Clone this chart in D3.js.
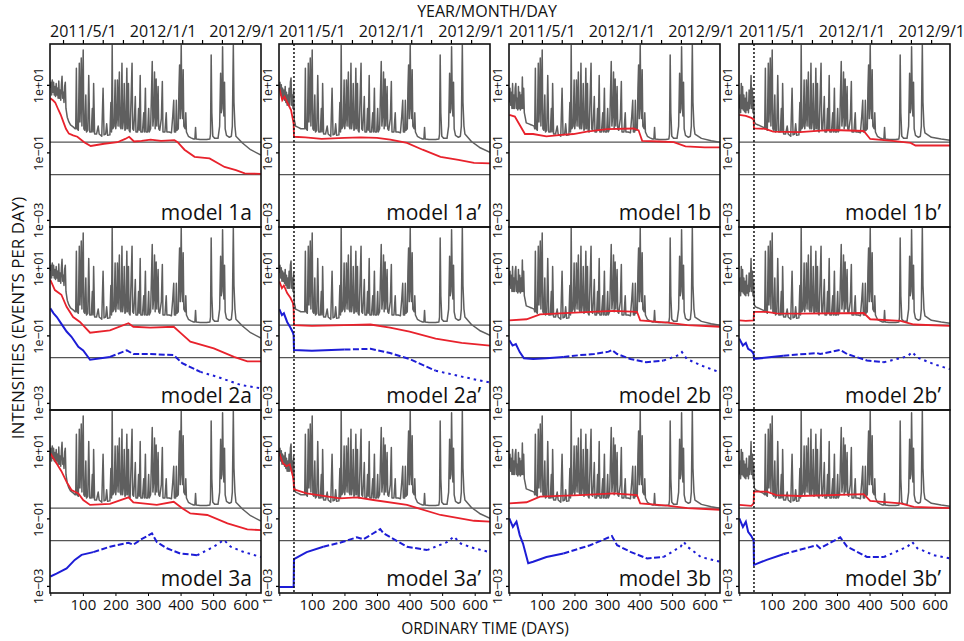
<!DOCTYPE html>
<html>
<head>
<meta charset="utf-8">
<script src="https://cdn.jsdelivr.net/npm/d3@7"></script>
<style>
  body { margin: 0; background: #fff; }
  text { font-family: "Open Sans", sans-serif; }
</style>
</head>
<body>
<script>
// ---- data ----
var dayZero = new Date(2011, 0, 21);   // ordinary day 0
var dayMax = 647;
var cutDay = 45;                        // dotted line in the primed models
var refLevels = [0.2, 0.022];
var yTickValues = [1e1, 1e-1, 1e-3];
var yTickLabels = ["1e+01", "1e\u221201", "1e\u221203"];
var dayTicks = [0, 100, 200, 300, 400, 500, 600];
var dateTickLabels = ["2011/5/1", "2012/1/1", "2012/9/1"];
var blueDashDays = [130, 430];

var rowNames = ["1", "2", "3"];
var colNames = ["a", "a\u2019", "b", "b\u2019"];

// grey: total intensity (start and end of series differ by column)
var greyHeadA = [[0,8],[2,12],[4,5],[6,14],[8,6],[10,12],[12,5],[14,9],[16,4.5],[18,11],[20,5],[22,8],[24,4],[26,13],[28,4],[30,7],[32,3.5],[34,10],[36,18],[38,4],[40,6],[42,3],[44,9],[46,12],[48,2],[52,1.1],[57,0.8],[62,0.65],[67,0.6],[72,0.55],[76,0.5]];
var greyHeadA2 = [[0,7],[2,12],[4,5],[6,10],[8,4],[10,8],[12,4],[14,7],[16,3.5],[18,9],[20,3],[22,6],[24,2.5],[26,5],[28,2.5],[30,8],[32,2.5],[34,12],[36,16],[38,2.5],[40,5],[42,2],[44,7],[46,0.9],[50,0.6],[58,0.55],[66,0.5],[74,0.5]];
var greyHeadB = [[0,3],[2,8],[4,2.5],[6,6],[8,2],[10,11],[12,2],[14,5],[16,2],[18,8],[20,11],[22,2],[24,4],[26,1.8],[28,9],[30,2],[32,6],[34,1.8],[36,5],[38,2],[40,17],[42,2],[44,8],[46,1.5],[48,1.2],[52,0.75],[60,0.7],[68,0.65],[76,0.6]];
var greyHeadB2 = [[0,2],[2,5],[4,1.5],[6,11],[8,2],[10,9],[12,1.8],[14,5],[16,1.6],[18,4],[20,1.5],[22,6],[24,1.8],[26,3],[28,1.5],[30,7],[32,2],[34,4],[36,19],[38,2],[40,8],[42,1.5],[44,4],[46,0.8],[50,0.7],[58,0.65],[66,0.6],[74,0.55]];
var greyMid = [[78,0.5],[80,31],[82,0.5],[86,0.45],[89,44],[91,0.8],[93,3],[95,62],[97,0.6],[99,8],[101,107],[103,0.5],[106,0.45],[109,5],[111,0.4],[115,0.45],[118,19],[121,0.4],[126,0.4],[129,2],[131,0.4],[133,11],[136,0.35],[142,0.35],[147,0.6],[150,0.35],[158,0.3],[162,8],[165,0.33],[170,0.35],[173,0.7],[176,0.32],[183,0.33],[186,3],[188,0.4],[190,150],[192,0.5],[196,0.6],[199,14],[201,0.5],[204,1.2],[206,14],[208,0.6],[210,3],[212,24],[214,0.6],[217,0.5],[220,44],[222,0.5],[225,1],[227,11],[229,0.45],[232,0.5],[235,31],[237,0.5],[240,11],[242,0.45],[245,0.4],[248,4],[251,44],[253,0.5],[256,0.45],[259,1.5],[261,4.5],[263,0.4],[268,0.4],[271,2],[273,0.45],[276,19],[278,0.4],[283,0.4],[287,1.5],[289,0.4],[292,8],[294,0.4],[299,0.4],[302,2],[304,0.4],[308,0.5],[310,3],[313,49],[315,0.6],[318,1.5],[320,24],[322,0.5],[325,15],[327,0.6],[329,2],[331,9],[333,0.5],[336,0.45],[341,1],[344,12.6],[346,0.4],[352,0.4],[356,1.5],[358,0.4],[365,0.4],[372,0.38],[376,1.2],[379,3.5],[381,0.4],[385,0.4],[387,3.5],[389,0.45],[393,0.5],[395,8],[397,39],[399,1],[402,150],[404,2],[406,1],[408,28],[410,0.6],[414,0.5],[416,1.5],[418,0.4],[424,0.3],[432,0.27],[440,0.25],[444,0.25],[446,0.55],[448,0.25],[460,0.24],[470,0.24],[480,0.24],[490,0.25],[492,0.35],[494,76],[496,1.5],[499,0.3],[505,0.26],[515,0.26],[520,0.6],[523,22],[525,1.5],[527,2],[529,135],[531,5],[533,1.2],[535,12],[537,0.5],[541,0.32],[550,0.28],[556,0.3],[559,0.6],[562,150],[564,3],[567,0.6]];
var greyTailA = [[570,0.3],[590,0.19],[615,0.12],[647,0.083]];
var greyTailA2 = [[570,0.35],[590,0.21],[615,0.14],[647,0.1]];
var greyTailB = [[570,0.35],[590,0.26],[620,0.22],[647,0.2]];
var greyTailB2 = [[570,0.38],[590,0.28],[620,0.25],[647,0.23]];

// red: fitted intensity, blue: background part
var red1a = [[0,4],[8,3.5],[15,3],[25,1.8],[32,1.3],[40,0.8],[48,0.5],[57,0.36],[70,0.32],[83,0.29],[104,0.2],[124,0.155],[165,0.18],[206,0.2],[230,0.25],[242,0.29],[257,0.21],[280,0.22],[308,0.24],[340,0.22],[381,0.23],[391,0.2],[412,0.12],[443,0.074],[489,0.066],[535,0.037],[570,0.03],[597,0.024],[647,0.023]];
var red1a2 = [[0,8],[9,3.5],[16,4.5],[26,2.8],[36,1.8],[42,0.9],[44,0.7],[45,0.29],[80,0.28],[130,0.25],[200,0.27],[250,0.28],[300,0.27],[341,0.24],[392,0.19],[440,0.12],[495,0.074],[550,0.06],[598,0.049],[647,0.047]];
var red1b = [[0,1.3],[17,1.15],[32,0.65],[48,0.35],[73,0.35],[114,0.3],[160,0.33],[197,0.35],[238,0.41],[300,0.49],[382,0.51],[397,0.45],[408,0.22],[460,0.21],[505,0.2],[541,0.15],[600,0.14],[647,0.14]];
var red1b2 = [[0,1.3],[20,1.2],[37,1.05],[44,0.95],[45,0.51],[80,0.5],[104,0.41],[186,0.4],[250,0.44],[289,0.46],[382,0.43],[402,0.25],[470,0.22],[526,0.19],[541,0.16],[600,0.16],[647,0.16]];

var red2a = [[0,4.4],[14,2.2],[34,1.6],[50,0.7],[70,0.35],[91,0.25],[122,0.12],[183,0.14],[240,0.23],[255,0.18],[307,0.17],[379,0.18],[399,0.12],[430,0.065],[502,0.041],[564,0.023],[605,0.017],[647,0.017]];
var blue2a = [[0,0.63],[10,0.45],[20,0.35],[34,0.22],[50,0.13],[65,0.091],[86,0.046],[101,0.036],[122,0.019],[183,0.023],[235,0.036],[255,0.028],[307,0.028],[379,0.026],[405,0.015],[461,0.0083],[513,0.0059],[585,0.0034],[647,0.0027]];
var red2a2 = [[0,4],[8,2.5],[14,3],[24,1.8],[34,1.3],[42,0.9],[44,0.6],[45,0.2],[100,0.19],[200,0.2],[280,0.21],[340,0.17],[400,0.13],[480,0.08],[560,0.06],[647,0.05]];
var blue2a2 = [[0,0.6],[8,0.4],[14,0.45],[24,0.25],[34,0.17],[42,0.12],[44,0.1],[45,0.037],[100,0.035],[200,0.038],[280,0.04],[340,0.03],[400,0.02],[480,0.009],[560,0.006],[647,0.004]];
var red2b = [[0,0.28],[53,0.3],[94,0.42],[217,0.48],[320,0.53],[392,0.5],[402,0.28],[485,0.24],[547,0.2],[647,0.18]];
var blue2b = [[0,0.072],[10,0.05],[20,0.055],[32,0.032],[45,0.021],[73,0.02],[114,0.021],[166,0.023],[217,0.026],[260,0.028],[305,0.033],[315,0.037],[331,0.028],[372,0.02],[420,0.016],[474,0.018],[520,0.026],[530,0.032],[545,0.02],[588,0.013],[647,0.008]];
var red2b2 = [[0,0.28],[20,0.27],[44,0.28],[45,0.5],[84,0.5],[114,0.45],[186,0.44],[382,0.46],[402,0.3],[495,0.27],[536,0.21],[647,0.19]];
var blue2b2 = [[0,0.08],[11,0.05],[20,0.06],[27,0.04],[37,0.035],[44,0.028],[45,0.02],[84,0.022],[135,0.025],[238,0.03],[248,0.028],[310,0.037],[331,0.028],[392,0.018],[444,0.016],[516,0.024],[531,0.032],[547,0.022],[598,0.014],[647,0.01]];

var red3a = [[0,8.5],[19,4.3],[34,2.5],[50,1.2],[65,0.69],[86,0.55],[101,0.35],[122,0.25],[183,0.27],[240,0.42],[255,0.3],[327,0.25],[379,0.31],[405,0.2],[430,0.14],[482,0.126],[544,0.071],[605,0.047],[647,0.045]];
var blue3a = [[0,0.0019],[19,0.0023],[50,0.0033],[75,0.0059],[96,0.0083],[132,0.01],[183,0.0145],[240,0.019],[255,0.0166],[276,0.023],[312,0.036],[327,0.02],[358,0.013],[399,0.0091],[451,0.0081],[502,0.0145],[533,0.023],[554,0.0145],[595,0.01],[647,0.0072]];
var red3a2 = [[0,8.5],[11,4.3],[22,3.5],[32,4],[42,1.7],[44,1.2],[45,0.72],[84,0.55],[186,0.39],[238,0.42],[289,0.35],[392,0.25],[495,0.126],[598,0.085],[647,0.08]];
var blue3a2 = [[0,0.00093],[44,0.00093],[45,0.0062],[84,0.01],[135,0.0145],[186,0.019],[238,0.0275],[258,0.024],[310,0.048],[320,0.036],[392,0.0145],[454,0.0115],[516,0.02],[536,0.029],[557,0.018],[598,0.013],[647,0.01]];
var red3b = [[0,0.28],[53,0.3],[94,0.44],[217,0.49],[320,0.55],[392,0.49],[402,0.28],[485,0.24],[547,0.2],[647,0.18]];
var blue3b = [[0,0.1],[11,0.056],[22,0.08],[32,0.032],[42,0.018],[58,0.0047],[73,0.0052],[114,0.0072],[166,0.0091],[217,0.013],[248,0.016],[315,0.03],[331,0.016],[372,0.0102],[423,0.0065],[474,0.0072],[526,0.0145],[536,0.02],[547,0.0145],[588,0.0072],[647,0.0052]];
var red3b2 = [[0,0.25],[37,0.235],[44,0.28],[45,0.62],[84,0.62],[114,0.49],[186,0.46],[382,0.52],[402,0.33],[495,0.28],[536,0.22],[647,0.2]];
var blue3b2 = [[0,0.1],[11,0.056],[20,0.08],[27,0.04],[37,0.03],[44,0.022],[45,0.0042],[84,0.0059],[135,0.0087],[238,0.016],[248,0.013],[310,0.0275],[331,0.0145],[392,0.0072],[444,0.0072],[516,0.0145],[531,0.02],[547,0.013],[598,0.0081],[647,0.0065]];

// ---- layout ----
var width = 964, height = 641;
var colLeft = [50, 279, 509, 739],
    rowTop = [44, 227, 410],
    panelW = 211, panelH = 183;
var fontFamily = '"Open Sans", sans-serif';

var greyByCol = [
    greyHeadA.concat(greyMid, greyTailA),
    greyHeadA2.concat(greyMid, greyTailA2),
    greyHeadB.concat(greyMid, greyTailB),
    greyHeadB2.concat(greyMid, greyTailB2)
];
var redByPanel = [[red1a, red1a2, red1b, red1b2], [red2a, red2a2, red2b, red2b2], [red3a, red3a2, red3b, red3b2]];
var blueByPanel = [[null, null, null, null], [blue2a, blue2a2, blue2b, blue2b2], [blue3a, blue3a2, blue3b, blue3b2]];

var svg = d3.select("body").append("svg")
    .attr("width", width)
    .attr("height", height);

var yScale = function(top) {
    return d3.scaleLog().domain([Math.pow(10, -3.21), Math.pow(10, 2.21)]).range([top + panelH, top]);
};
var xScale = function(left) {
    return d3.scaleLinear().domain([-1, dayMax]).range([left, left + panelW]);
};

// split the blue series where its dash pattern changes (sharing the joining vertex)
function splitByDays(points, breaks) {
    var pieces = [], start = 0;
    breaks.forEach(function(b) {
        var idx = points.findIndex(function(p) { return p[0] > b; });
        if (idx < 0) idx = points.length - 1;
        pieces.push(points.slice(start, idx + 1));
        start = idx;
    });
    pieces.push(points.slice(start));
    return pieces;
}
var blueDash = [null, "6,2.5", "2.5,4"];

rowNames.forEach(function(rn, r) {
    colNames.forEach(function(cn, c) {
        var left = colLeft[c], top = rowTop[r];
        var x = xScale(left), y = yScale(top);
        var line = d3.line()
            .x(function(d) { return x(d[0]); })
            .y(function(d) { return y(d[1]); });

        var clipId = "clip" + r + c;
        svg.append("clipPath").attr("id", clipId)
            .append("rect").attr("x", left).attr("y", top).attr("width", panelW).attr("height", panelH);

        var g = svg.append("g").attr("clip-path", "url(#" + clipId + ")");

        g.selectAll(".ref").data(refLevels).enter().append("line")
            .attr("x1", left).attr("x2", left + panelW)
            .attr("y1", function(d) { return y(d); })
            .attr("y2", function(d) { return y(d); })
            .attr("stroke", "#555").attr("stroke-width", 1.3);

        g.append("path").datum(greyByCol[c])
            .attr("fill", "none").attr("stroke", "#5f5f5f").attr("stroke-width", 1.5)
            .attr("stroke-linejoin", "round")
            .attr("d", line);

        g.append("path").datum(redByPanel[r][c])
            .attr("fill", "none").attr("stroke", "#e8222c").attr("stroke-width", 1.8)
            .attr("d", line);

        if (blueByPanel[r][c]) {
            splitByDays(blueByPanel[r][c], blueDashDays).forEach(function(piece, i) {
                g.append("path").datum(piece)
                    .attr("fill", "none").attr("stroke", "#1d1dd6").attr("stroke-width", 2)
                    .attr("stroke-dasharray", blueDash[i])
                    .attr("d", line);
            });
        }

        // left axis
        var ya = svg.append("g").attr("transform", "translate(" + left + ",0)")
            .call(d3.axisLeft(y).tickValues(yTickValues)
                .tickFormat(function(d, i) { return yTickLabels[i]; })
                .tickSize(3).tickSizeOuter(0));
        ya.select(".domain").remove();
        ya.attr("font-size", 12.5).attr("font-family", fontFamily);
        ya.selectAll(".tick line").attr("stroke-width", 1.3);
        ya.selectAll(".tick text")
            .attr("transform", "rotate(-90)")
            .attr("x", 0).attr("y", -7).attr("dy", "0")
            .attr("text-anchor", "middle").attr("fill", "#111");

        if (r === 0) {
            var t = d3.scaleTime()
                .domain([d3.timeDay.offset(dayZero, -1), d3.timeDay.offset(dayZero, dayMax)])
                .range([left, left + panelW]);
            var fmt = d3.timeFormat("%Y/%-m/%-d");
            var ta = svg.append("g").attr("transform", "translate(0," + top + ")")
                .call(d3.axisTop(t).ticks(d3.timeMonth.every(2))
                    .tickFormat(function(d) { var s = fmt(d); return dateTickLabels.indexOf(s) >= 0 ? s : ""; })
                    .tickSize(4).tickSizeOuter(0).tickPadding(3));
            ta.select(".domain").remove();
            ta.attr("font-size", 16).attr("font-family", fontFamily);
            ta.selectAll(".tick line").attr("stroke-width", 1.2);
            ta.selectAll(".tick text").attr("fill", "#111");
        }
        if (r === 2) {
            var ba = svg.append("g").attr("transform", "translate(0," + (top + panelH) + ")")
                .call(d3.axisBottom(x).tickValues(dayTicks)
                    .tickFormat(function(d) { return d === 0 ? "" : d; })
                    .tickSize(3).tickSizeOuter(0).tickPadding(3));
            ba.select(".domain").remove();
            ba.attr("font-size", 15).attr("font-family", fontFamily);
            ba.selectAll(".tick text").attr("fill", "#111");
        }

        svg.append("rect")
            .attr("x", left).attr("y", top).attr("width", panelW).attr("height", panelH)
            .attr("fill", "none").attr("stroke", "#111").attr("stroke-width", 1.6);

        svg.append("text")
            .attr("x", left + panelW - 9).attr("y", top + panelH - 7)
            .attr("text-anchor", "end").attr("font-size", 21).attr("fill", "#111")
            .text("model " + rn + cn);

        if (c === 1 || c === 3) {
            svg.append("line")
                .attr("x1", x(cutDay)).attr("x2", x(cutDay))
                .attr("y1", top).attr("y2", top + panelH)
                .attr("stroke", "#111").attr("stroke-width", 1.5)
                .attr("stroke-dasharray", "2,2");
        }
    });
});

// titles
svg.append("text")
    .attr("x", 487).attr("y", 17).attr("text-anchor", "middle")
    .attr("font-size", 16).attr("fill", "#111")
    .text("YEAR/MONTH/DAY");
svg.append("text")
    .attr("x", 485).attr("y", 634).attr("text-anchor", "middle")
    .attr("font-size", 15.5).attr("fill", "#111")
    .text("ORDINARY TIME (DAYS)");
svg.append("text")
    .attr("transform", "translate(24,318) rotate(-90)")
    .attr("text-anchor", "middle")
    .attr("font-size", 17).attr("fill", "#111")
    .text("INTENSITIES (EVENTS PER DAY)");
</script>
</body>
</html>
